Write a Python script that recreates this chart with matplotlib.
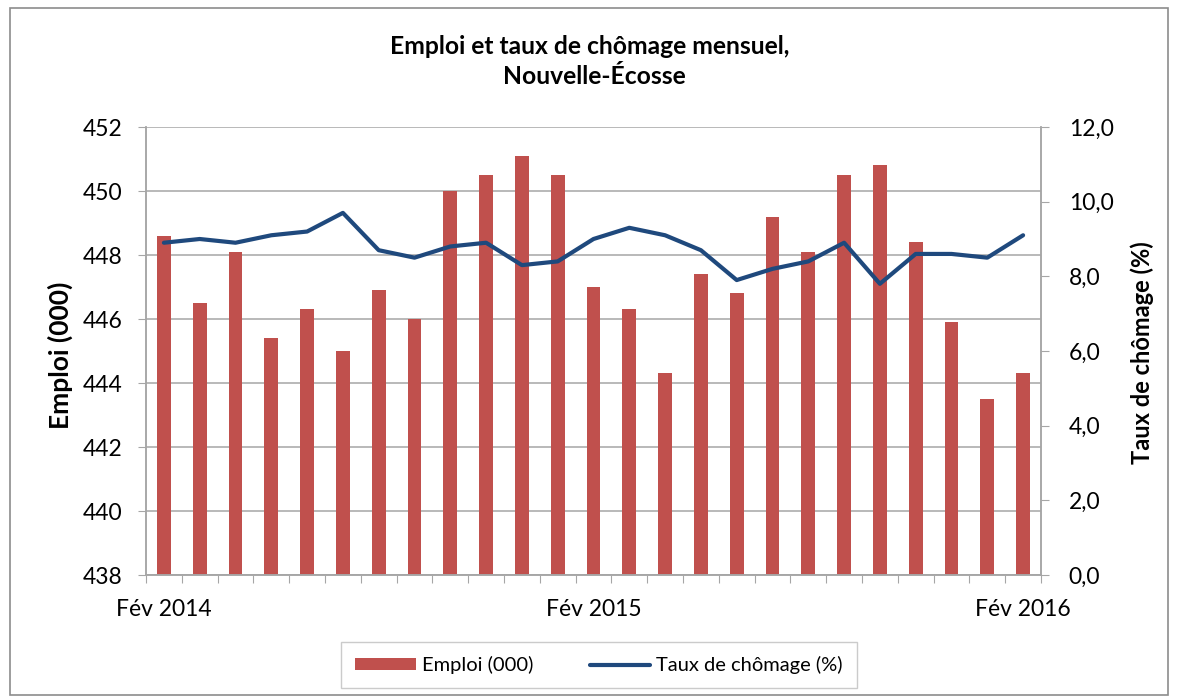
import matplotlib
matplotlib.use("Agg")
import matplotlib.pyplot as plt
from matplotlib.patches import Rectangle
import numpy as np

plt.rcParams['font.family'] = ['Lato', 'DejaVu Sans']

months = ["Fév 2014", "Mar 2014", "Avr 2014", "Mai 2014", "Juin 2014", "Juil 2014",
          "Août 2014", "Sep 2014", "Oct 2014", "Nov 2014", "Déc 2014", "Jan 2015",
          "Fév 2015", "Mar 2015", "Avr 2015", "Mai 2015", "Juin 2015", "Juil 2015",
          "Août 2015", "Sep 2015", "Oct 2015", "Nov 2015", "Déc 2015", "Jan 2016",
          "Fév 2016"]
emploi = [448.6, 446.5, 448.1, 445.4, 446.3, 445.0, 446.9, 446.0, 450.0, 450.5,
          451.1, 450.5, 447.0, 446.3, 444.3, 447.4, 446.8, 449.2, 448.1, 450.5,
          450.8, 448.4, 445.9, 443.5, 444.3]
chomage = [8.9, 9.0, 8.9, 9.1, 9.2, 9.7, 8.7, 8.5, 8.8, 8.9, 8.3, 8.4, 9.0, 9.3,
           9.1, 8.7, 7.9, 8.2, 8.4, 8.9, 7.8, 8.6, 8.6, 8.5, 9.1]
shown_labels = {0: "Fév 2014", 12: "Fév 2015", 24: "Fév 2016"}
left_ticks = [438, 440, 442, 444, 446, 448, 450, 452]
right_ticks = [0, 2, 4, 6, 8, 10, 12]

bar_color = "#C0504D"
line_color = "#1F497D"
grid_color = "#A6A6A6"
txt = "#000000"
W, H = 1177, 696

fig = plt.figure(figsize=(W / 100, H / 100), dpi=100)
fig.patch.set_facecolor("white")
fig.add_artist(Rectangle((10 / W, 0.002), 1158 / W, 1 - 8 / H - 0.002,
                         transform=fig.transFigure, fill=False,
                         edgecolor="#8C8C8C", linewidth=1.2))

ax = fig.add_axes([146 / W, 1 - 575 / H, (1041 - 146) / W, (575 - 127) / H])
x = np.arange(len(months))
ax.bar(x, [e - 438 for e in emploi], bottom=438, width=0.39, color=bar_color,
       zorder=2, label="Emploi (000)")
ax.set_ylim(438, 452)
ax.set_xlim(-0.5, len(months) - 0.5)
ax.set_yticks(left_ticks)
ax.set_yticklabels([str(t) for t in left_ticks], fontsize=16.5, color=txt)
ax.yaxis.grid(True, color=grid_color, linewidth=1.1, zorder=0)
ax.set_axisbelow(True)
ax.set_xticks(np.arange(-0.5, len(months), 1.0))
ax.set_xticklabels([])
ax.set_xticks(list(shown_labels.keys()), minor=True)
ax.set_xticklabels(list(shown_labels.values()), minor=True, fontsize=16.5, color=txt)
ax.tick_params(axis='x', which='major', length=6, color=grid_color, direction='out')
ax.tick_params(axis='x', which='minor', length=0, pad=17)
ax.tick_params(axis='y', length=6, color=grid_color, pad=11)
for s in ["left", "bottom", "right", "top"]:
    ax.spines[s].set_color(grid_color)
    ax.spines[s].set_linewidth(1.1)
ax.spines["top"].set_visible(False)

ax2 = ax.twinx()
ax2.plot(x, chomage, color=line_color, linewidth=3.0, solid_capstyle="round",
         solid_joinstyle="round", zorder=3, label="Taux de chômage (%)")
ax2.set_ylim(0, 12)
ax2.set_yticks(right_ticks)
ax2.set_yticklabels([f"{t:.1f}".replace(".", ",") for t in right_ticks], fontsize=16.5, color=txt)
ax2.tick_params(axis='y', length=6, color=grid_color, pad=14)
for s in ["left", "bottom", "right", "top"]:
    ax2.spines[s].set_color(grid_color)
    ax2.spines[s].set_linewidth(1.1)
ax2.spines["top"].set_visible(False)

fig.text(60 / W, 1 - 355 / H, "Emploi (000)", rotation=90, ha="center", va="center",
         fontsize=19, fontweight="bold", color=txt)
fig.text(1142 / W, 1 - 353 / H, "Taux de chômage (%)", rotation=90, ha="center",
         va="center", fontsize=17, fontweight="bold", color=txt)

fig.text(590 / W, 1 - 54 / H, "Emploi et taux de chômage mensuel,",
         ha="center", va="baseline", fontsize=17.7, fontweight="bold", color=txt)
fig.text(594 / W, 1 - 84 / H, "Nouvelle-Écosse",
         ha="center", va="baseline", fontsize=17.7, fontweight="bold", color=txt)

h1, l1 = ax.get_legend_handles_labels()
h2, l2 = ax2.get_legend_handles_labels()
leg = fig.legend(h1 + h2, l1 + l2, loc="center", bbox_to_anchor=(599 / W, 1 - 665 / H),
                 ncol=2, fontsize=14.5, frameon=True, fancybox=False, borderpad=0.7,
                 handlelength=3.0, handleheight=0.5, columnspacing=2.8, handletextpad=0.3,
                 borderaxespad=0)
leg.get_frame().set_edgecolor("#BFBFBF")
leg.get_frame().set_linewidth(1.0)

fig.savefig("out.png", dpi=100, facecolor="white")
